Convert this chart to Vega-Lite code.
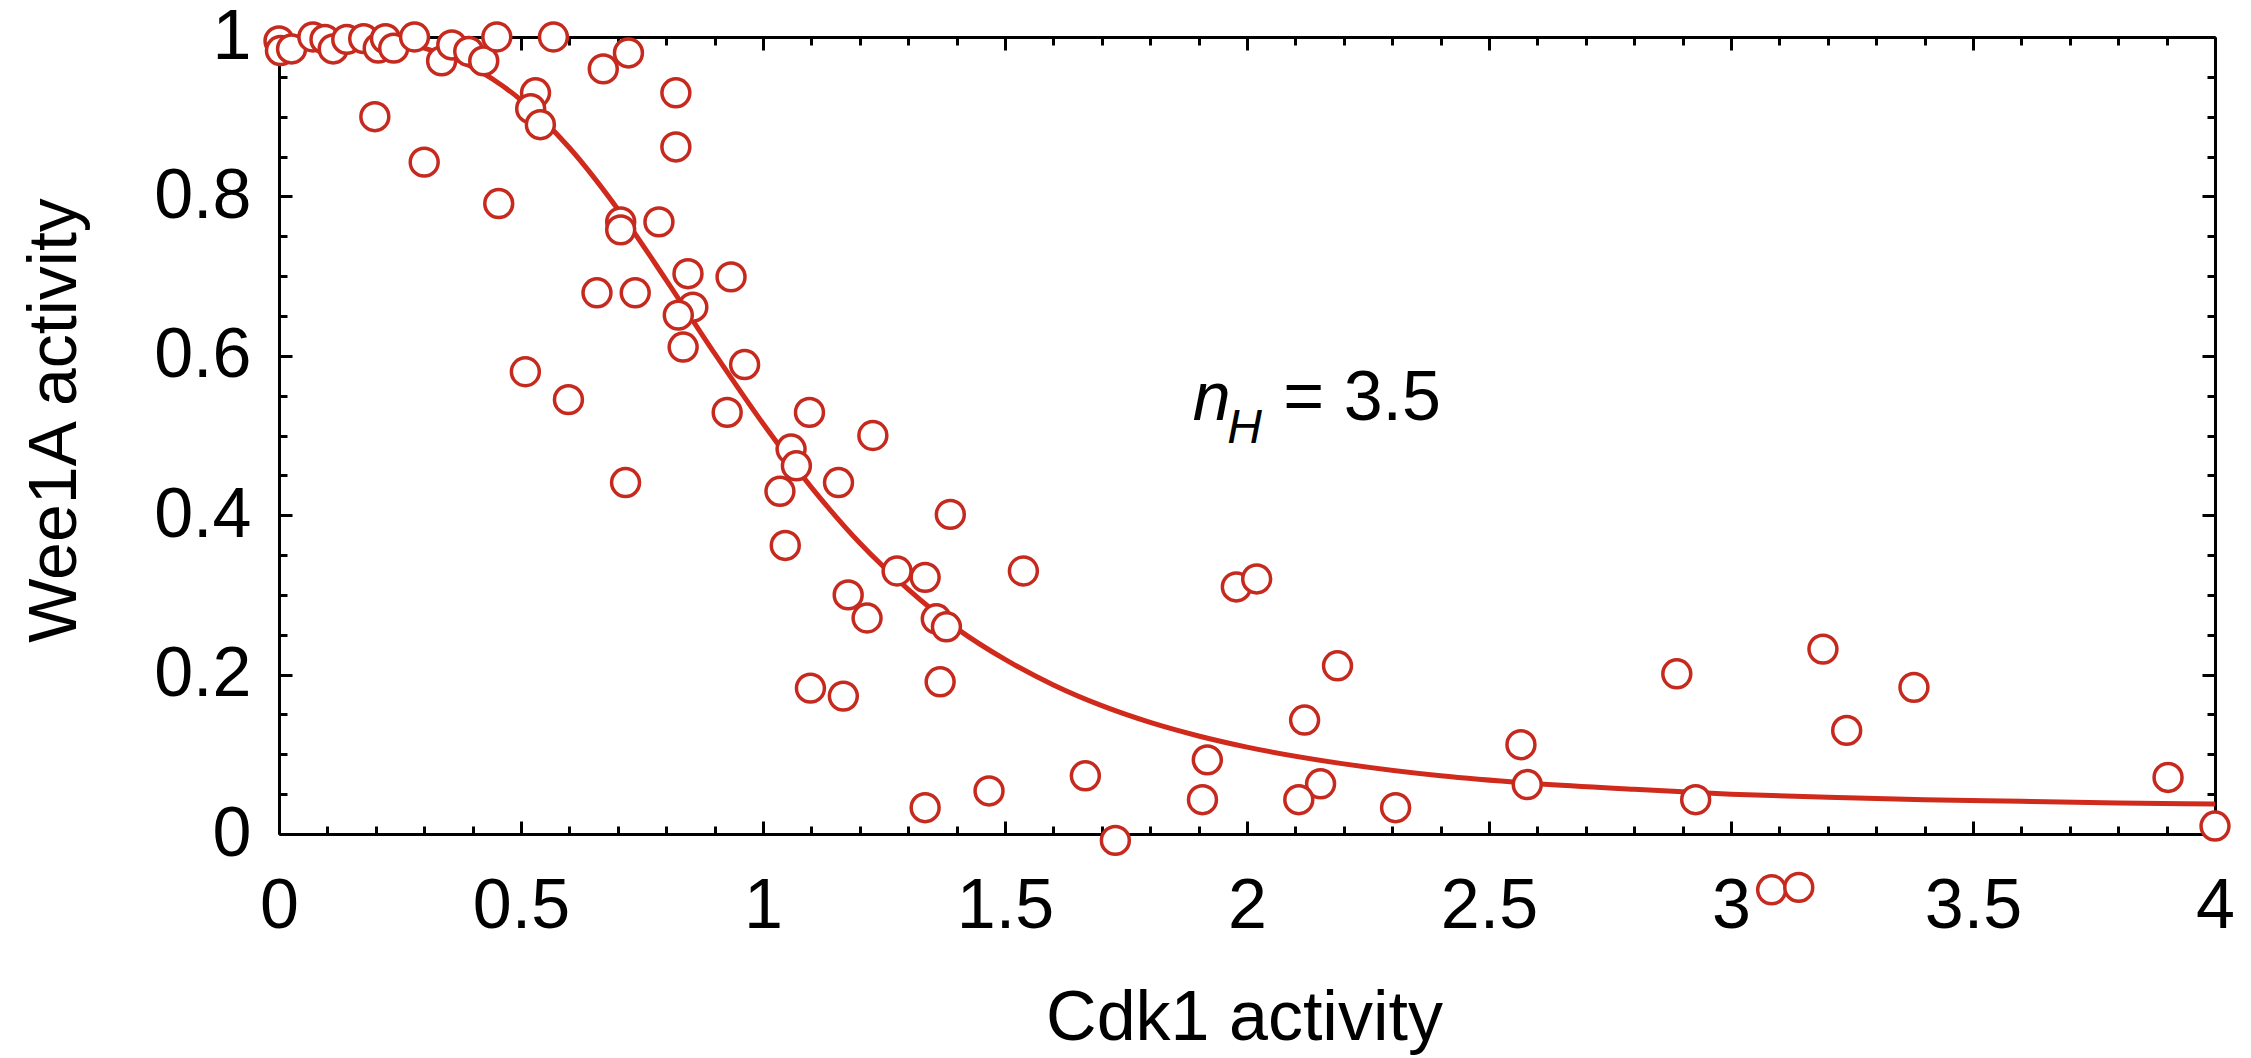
{
  "$schema": "https://vega.github.io/schema/vega-lite/v6.json",
  "width": 1936,
  "height": 797,
  "autosize": {"type": "none"},
  "padding": {"left": 279, "top": 37, "right": 36, "bottom": 224},
  "background": "white",
  "config": {"view": {"stroke": null}, "font": "Liberation Sans"},
  "layer": [
    {
      "data": {"values": [
        {"cdk1": 0, "wee1a": 1.0}, {"cdk1": 0.1, "wee1a": 0.9997}, {"cdk1": 0.2, "wee1a": 0.9965},
        {"cdk1": 0.3, "wee1a": 0.986}, {"cdk1": 0.4, "wee1a": 0.962}, {"cdk1": 0.5, "wee1a": 0.921},
        {"cdk1": 0.6, "wee1a": 0.861}, {"cdk1": 0.7, "wee1a": 0.784}, {"cdk1": 0.8, "wee1a": 0.695},
        {"cdk1": 0.9, "wee1a": 0.603}, {"cdk1": 1.0, "wee1a": 0.515}, {"cdk1": 1.1, "wee1a": 0.435},
        {"cdk1": 1.2, "wee1a": 0.365}, {"cdk1": 1.3, "wee1a": 0.307}, {"cdk1": 1.4, "wee1a": 0.258},
        {"cdk1": 1.5, "wee1a": 0.219}, {"cdk1": 1.6, "wee1a": 0.187}, {"cdk1": 1.7, "wee1a": 0.161},
        {"cdk1": 1.8, "wee1a": 0.140}, {"cdk1": 1.9, "wee1a": 0.123}, {"cdk1": 2.0, "wee1a": 0.109},
        {"cdk1": 2.2, "wee1a": 0.088}, {"cdk1": 2.4, "wee1a": 0.073}, {"cdk1": 2.6, "wee1a": 0.063},
        {"cdk1": 2.8, "wee1a": 0.056}, {"cdk1": 3.0, "wee1a": 0.050}, {"cdk1": 3.2, "wee1a": 0.046},
        {"cdk1": 3.4, "wee1a": 0.043}, {"cdk1": 3.6, "wee1a": 0.041}, {"cdk1": 3.8, "wee1a": 0.039},
        {"cdk1": 4.0, "wee1a": 0.0375}
      ]},
      "mark": {"type": "line", "interpolate": "monotone", "color": "#d02a1c", "strokeWidth": 5},
      "encoding": {
        "x": {"field": "cdk1", "type": "quantitative", "scale": {"domain": [0, 4], "nice": false, "zero": false},
          "axis": {"orient": "top", "labels": false, "title": null, "grid": false,
            "values": [0,0.1,0.2,0.3,0.4,0.5,0.6,0.7,0.8,0.9,1,1.1,1.2,1.3,1.4,1.5,1.6,1.7,1.8,1.9,2,2.1,2.2,2.3,2.4,2.5,2.6,2.7,2.8,2.9,3,3.1,3.2,3.3,3.4,3.5,3.6,3.7,3.8,3.9,4],
            "tickSize": {"condition": {"test": "abs(datum.value*2 - round(datum.value*2)) < 0.001", "value": -13}, "value": -8},
            "tickColor": "black", "tickWidth": 3, "domainColor": "black", "domainWidth": 3}},
        "y": {"field": "wee1a", "type": "quantitative", "scale": {"domain": [0, 1], "nice": false, "zero": false},
          "axis": {"orient": "right", "labels": false, "title": null, "grid": false,
            "values": [0,0.05,0.1,0.15,0.2,0.25,0.3,0.35,0.4,0.45,0.5,0.55,0.6,0.65,0.7,0.75,0.8,0.85,0.9,0.95,1],
            "tickSize": {"condition": {"test": "abs(datum.value*5 - round(datum.value*5)) < 0.001", "value": -13}, "value": -8},
            "tickColor": "black", "tickWidth": 3, "domainColor": "black", "domainWidth": 3}}
      }
    },
    {
      "data": {"values": [
        {"cdk1": 0, "wee1a": 0.995}, {"cdk1": 0.003, "wee1a": 0.983}, {"cdk1": 0.026, "wee1a": 0.985},
        {"cdk1": 0.07, "wee1a": 1.0}, {"cdk1": 0.095, "wee1a": 0.997}, {"cdk1": 0.112, "wee1a": 0.985},
        {"cdk1": 0.14, "wee1a": 0.997}, {"cdk1": 0.175, "wee1a": 0.998}, {"cdk1": 0.205, "wee1a": 0.986},
        {"cdk1": 0.22, "wee1a": 0.998}, {"cdk1": 0.237, "wee1a": 0.986}, {"cdk1": 0.28, "wee1a": 1.0},
        {"cdk1": 0.336, "wee1a": 0.97}, {"cdk1": 0.357, "wee1a": 0.99}, {"cdk1": 0.392, "wee1a": 0.982},
        {"cdk1": 0.423, "wee1a": 0.97}, {"cdk1": 0.45, "wee1a": 1.0}, {"cdk1": 0.567, "wee1a": 1.0},
        {"cdk1": 0.67, "wee1a": 0.96}, {"cdk1": 0.722, "wee1a": 0.98}, {"cdk1": 0.82, "wee1a": 0.93},
        {"cdk1": 0.82, "wee1a": 0.862}, {"cdk1": 0.53, "wee1a": 0.93}, {"cdk1": 0.52, "wee1a": 0.91},
        {"cdk1": 0.54, "wee1a": 0.89}, {"cdk1": 0.198, "wee1a": 0.9}, {"cdk1": 0.30, "wee1a": 0.843},
        {"cdk1": 0.454, "wee1a": 0.791}, {"cdk1": 0.706, "wee1a": 0.768}, {"cdk1": 0.706, "wee1a": 0.758},
        {"cdk1": 0.785, "wee1a": 0.768}, {"cdk1": 0.657, "wee1a": 0.679}, {"cdk1": 0.736, "wee1a": 0.679},
        {"cdk1": 0.845, "wee1a": 0.703}, {"cdk1": 0.934, "wee1a": 0.699}, {"cdk1": 0.855, "wee1a": 0.661},
        {"cdk1": 0.825, "wee1a": 0.651}, {"cdk1": 0.835, "wee1a": 0.611}, {"cdk1": 0.509, "wee1a": 0.58},
        {"cdk1": 0.598, "wee1a": 0.545}, {"cdk1": 0.962, "wee1a": 0.589}, {"cdk1": 0.716, "wee1a": 0.441},
        {"cdk1": 0.926, "wee1a": 0.529}, {"cdk1": 1.096, "wee1a": 0.529}, {"cdk1": 1.227, "wee1a": 0.50},
        {"cdk1": 1.058, "wee1a": 0.483}, {"cdk1": 1.069, "wee1a": 0.462}, {"cdk1": 1.035, "wee1a": 0.43},
        {"cdk1": 1.156, "wee1a": 0.441}, {"cdk1": 1.387, "wee1a": 0.401}, {"cdk1": 1.046, "wee1a": 0.362},
        {"cdk1": 1.277, "wee1a": 0.33}, {"cdk1": 1.335, "wee1a": 0.322}, {"cdk1": 1.538, "wee1a": 0.33},
        {"cdk1": 1.176, "wee1a": 0.30}, {"cdk1": 1.215, "wee1a": 0.271}, {"cdk1": 1.358, "wee1a": 0.27},
        {"cdk1": 1.379, "wee1a": 0.26}, {"cdk1": 1.978, "wee1a": 0.31}, {"cdk1": 2.02, "wee1a": 0.32},
        {"cdk1": 1.098, "wee1a": 0.183}, {"cdk1": 1.166, "wee1a": 0.173}, {"cdk1": 1.366, "wee1a": 0.191},
        {"cdk1": 2.187, "wee1a": 0.211}, {"cdk1": 2.119, "wee1a": 0.143}, {"cdk1": 1.918, "wee1a": 0.093},
        {"cdk1": 1.908, "wee1a": 0.043}, {"cdk1": 1.666, "wee1a": 0.073}, {"cdk1": 1.467, "wee1a": 0.054},
        {"cdk1": 1.335, "wee1a": 0.033}, {"cdk1": 1.728, "wee1a": -0.008}, {"cdk1": 2.152, "wee1a": 0.063},
        {"cdk1": 2.107, "wee1a": 0.043}, {"cdk1": 2.307, "wee1a": 0.033}, {"cdk1": 2.566, "wee1a": 0.112},
        {"cdk1": 2.579, "wee1a": 0.062}, {"cdk1": 2.888, "wee1a": 0.201}, {"cdk1": 2.927, "wee1a": 0.043},
        {"cdk1": 3.19, "wee1a": 0.232}, {"cdk1": 3.239, "wee1a": 0.130}, {"cdk1": 3.378, "wee1a": 0.184},
        {"cdk1": 3.903, "wee1a": 0.071}, {"cdk1": 4.0, "wee1a": 0.01}, {"cdk1": 3.084, "wee1a": -0.07},
        {"cdk1": 3.14, "wee1a": -0.067}
      ]},
      "mark": {"type": "point", "shape": "circle", "filled": true, "fill": "white", "stroke": "#c62a1f", "strokeWidth": 3.5, "size": 780, "opacity": 1, "fillOpacity": 1, "strokeOpacity": 1},
      "encoding": {
        "x": {"field": "cdk1", "type": "quantitative", "scale": {"domain": [0, 4], "nice": false, "zero": false},
          "axis": {"orient": "bottom", "grid": false,
            "values": [0,0.1,0.2,0.3,0.4,0.5,0.6,0.7,0.8,0.9,1,1.1,1.2,1.3,1.4,1.5,1.6,1.7,1.8,1.9,2,2.1,2.2,2.3,2.4,2.5,2.6,2.7,2.8,2.9,3,3.1,3.2,3.3,3.4,3.5,3.6,3.7,3.8,3.9,4],
            "labelExpr": "abs(datum.value*2 - round(datum.value*2)) < 0.001 ? format(datum.value, '~g') : ''",
            "tickSize": {"condition": {"test": "abs(datum.value*2 - round(datum.value*2)) < 0.001", "value": -13}, "value": -8},
            "labelPadding": 51, "labelFont": "Liberation Sans", "labelFontSize": 70, "labelColor": "black",
            "labelFlush": false, "labelOverlap": false, "labelBound": false,
            "tickColor": "black", "tickWidth": 3, "domainColor": "black", "domainWidth": 3,
            "title": "Cdk1 activity", "titleFont": "Liberation Sans", "titleFontSize": 70, "titleFontWeight": "normal", "titleColor": "black",
            "titleX": 965, "titleY": 205, "titleBaseline": "alphabetic", "titleAlign": "center"}},
        "y": {"field": "wee1a", "type": "quantitative", "scale": {"domain": [0, 1], "nice": false, "zero": false},
          "axis": {"orient": "left", "grid": false,
            "values": [0,0.05,0.1,0.15,0.2,0.25,0.3,0.35,0.4,0.45,0.5,0.55,0.6,0.65,0.7,0.75,0.8,0.85,0.9,0.95,1],
            "labelExpr": "abs(datum.value*5 - round(datum.value*5)) < 0.001 ? format(datum.value, '~g') : ''",
            "tickSize": {"condition": {"test": "abs(datum.value*5 - round(datum.value*5)) < 0.001", "value": -13}, "value": -8},
            "labelPadding": 41, "labelFont": "Liberation Sans", "labelFontSize": 70, "labelColor": "black",
            "labelFlush": false, "labelOverlap": false, "labelBound": false,
            "tickColor": "black", "tickWidth": 3, "domainColor": "black", "domainWidth": 3,
            "title": "Wee1A activity", "titleFont": "Liberation Sans", "titleFontSize": 68, "titleFontWeight": "normal", "titleColor": "black",
            "titleAngle": 270, "titleX": -204, "titleY": 383, "titleBaseline": "alphabetic", "titleAlign": "center"}}
      }
    },
    {
      "data": {"values": [{"label": "n", "cdk1": 1.888, "wee1a": 0.519}]},
      "mark": {"type": "text", "font": "Liberation Sans", "fontStyle": "italic", "fontSize": 68, "align": "left", "baseline": "alphabetic", "color": "black"},
      "encoding": {
        "x": {"field": "cdk1", "type": "quantitative", "axis": null},
        "y": {"field": "wee1a", "type": "quantitative", "axis": null},
        "text": {"field": "label"}
      }
    },
    {
      "data": {"values": [{"label": "H", "cdk1": 1.959, "wee1a": 0.4906}]},
      "mark": {"type": "text", "font": "Liberation Sans", "fontStyle": "italic", "fontSize": 48, "align": "left", "baseline": "alphabetic", "color": "black"},
      "encoding": {
        "x": {"field": "cdk1", "type": "quantitative", "axis": null},
        "y": {"field": "wee1a", "type": "quantitative", "axis": null},
        "text": {"field": "label"}
      }
    },
    {
      "data": {"values": [{"label": "= 3.5", "cdk1": 2.075, "wee1a": 0.5194}]},
      "mark": {"type": "text", "font": "Liberation Sans", "fontSize": 70, "align": "left", "baseline": "alphabetic", "color": "black"},
      "encoding": {
        "x": {"field": "cdk1", "type": "quantitative", "axis": null},
        "y": {"field": "wee1a", "type": "quantitative", "axis": null},
        "text": {"field": "label"}
      }
    }
  ],
  "resolve": {"axis": {"x": "independent", "y": "independent"}}
}
